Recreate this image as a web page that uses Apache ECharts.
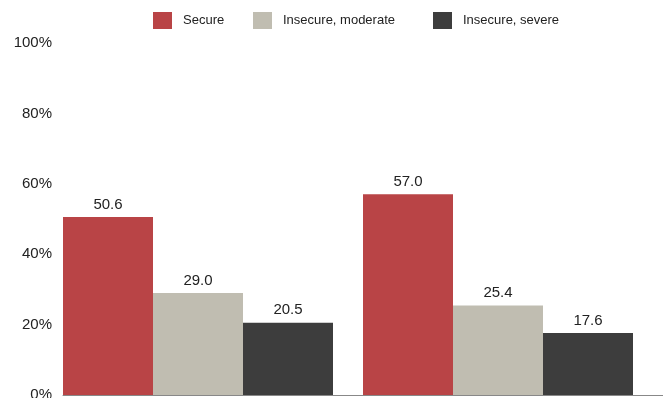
<!DOCTYPE html>
<html><head><meta charset="utf-8">
<script src="https://cdn.jsdelivr.net/npm/echarts@6/dist/echarts.min.js"></script>
<style>html,body{margin:0;padding:0;background:#fff}#c{width:663px;height:398px}</style>
</head><body><div id="c"></div>
<script>
const categories = ["Group A", "Group B"];
const seriesNames = ["Secure", "Insecure, moderate", "Insecure, severe"];
const secure = [50.6, 57.0];
const moderate = [29.0, 25.4];
const severe = [20.5, 17.6];
const yTicks = [0, 20, 40, 60, 80, 100];

const colors = ["#B94446", "#C0BDB1", "#3D3D3D"];
const font = "'Liberation Sans', Arial, sans-serif";
const values = [secure, moderate, severe];
const legendLeft = [153, 253, 433];

const chart = echarts.init(document.getElementById('c'), null, {renderer: 'canvas'});
chart.setOption({
  animation: false,
  textStyle: {fontFamily: font},
  legend: seriesNames.map((n, i) => ({
    left: legendLeft[i], top: 12, padding: 0, itemWidth: 19, itemHeight: 17,
    icon: 'rect',
    textStyle: {fontFamily: font, fontSize: 13, color: '#222', padding: [0, 0, 0, 6]},
    data: [n]
  })),
  grid: [
    {left: 48, right: 15, top: 43, bottom: 3, outerBoundsMode: 'none', containLabel: false},
    {left: 63, right: 0, top: 43, bottom: 3, outerBoundsMode: 'none', containLabel: false}
  ],
  xAxis: [
    {type: 'category', gridIndex: 0, data: categories, axisLine: {show: false}, axisTick: {show: false}, axisLabel: {show: false}},
    {type: 'category', gridIndex: 1, data: categories, axisLine: {show: true, lineStyle: {color: '#888', width: 1}}, axisTick: {show: false}, axisLabel: {show: false}}
  ],
  yAxis: [
    {type: 'value', gridIndex: 0, min: 0, max: 100, interval: 20, show: false, splitLine: {show: false}},
    {type: 'value', gridIndex: 1, min: 0, max: 100, interval: 20,
     axisLine: {show: false}, axisTick: {show: false}, splitLine: {show: false},
     axisLabel: {margin: 11, fontFamily: font, fontSize: 15, color: '#222', formatter: v => v + '%'}}
  ],
  series: seriesNames.map((n, i) => ({
    name: n, type: 'bar', xAxisIndex: 0, yAxisIndex: 0,
    data: values[i], barGap: '0%', barCategoryGap: '10%',
    itemStyle: {color: colors[i]},
    label: {show: true, position: 'top', distance: 5, fontFamily: font, fontSize: 15, color: '#222',
            formatter: p => p.value.toFixed(1)}
  }))
});
</script></body></html>
